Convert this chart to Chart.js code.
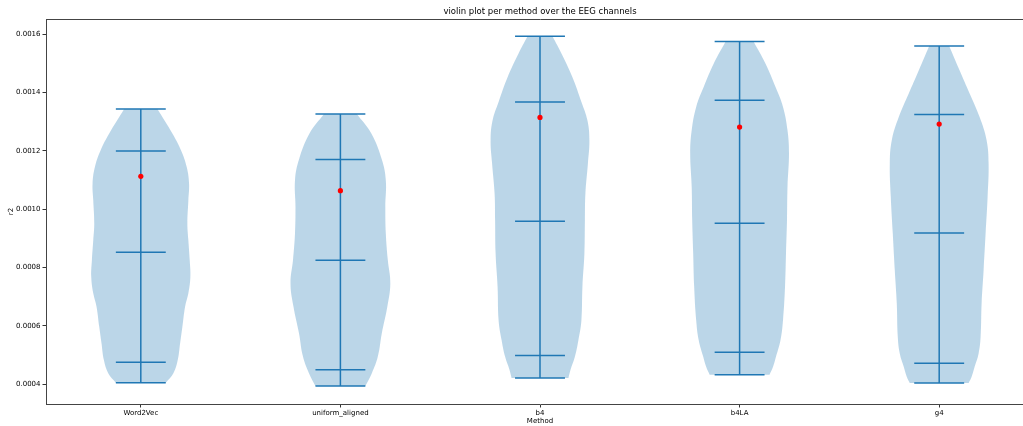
<!DOCTYPE html>
<html>
<head>
<meta charset="utf-8">
<script src="https://cdn.jsdelivr.net/npm/chart.js@4"></script>
<style>
  html, body { margin: 0; padding: 0; background: #fff; overflow: hidden; }
  canvas { display: block; }
</style>
</head>
<body>
<canvas id="chart" width="1045" height="426"></canvas>
<script>
// Methods compared (one violin each, placed at x = 1..5)
const methods = ['Word2Vec', 'uniform_aligned', 'b4', 'b4LA', 'g4'];

// Per-method summary statistics of r2 over the EEG channels
const minVals    = [0.0004055, 0.000394,  0.0004216, 0.000433,  0.0004045];
const q1Vals     = [0.000476,  0.00045,   0.000499,  0.00051,   0.000472];
const medianVals = [0.000853,  0.000825,  0.000959,  0.000952,  0.000919];
const q3Vals     = [0.0012,    0.001171,  0.001368,  0.001374,  0.001325];
const maxVals    = [0.001344,  0.0013267, 0.001593,  0.001575,  0.00156];

// Red markers: overall score per method
const overallVals = [0.001113, 0.001064, 0.001315, 0.001282, 0.001292];

// Kernel density profiles (bottom to top): r2 levels and relative half-widths
const densityLevels = [
  [0.0004055, 0.000438, 0.000483, 0.00054, 0.000597, 0.000666, 0.000712, 0.000768, 0.000826, 0.000894, 0.000951, 0.001031, 0.001088, 0.001145, 0.001202, 0.00126, 0.001344],
  [0.000394, 0.000438, 0.000495, 0.000575, 0.000666, 0.000746, 0.000826, 0.000917, 0.001008, 0.0011, 0.001171, 0.00126, 0.0013267],
  [0.0004216, 0.000449, 0.000495, 0.000552, 0.00062, 0.000734, 0.000849, 0.000963, 0.001054, 0.001157, 0.001237, 0.001305, 0.001368, 0.001453, 0.001534, 0.001593],
  [0.000433, 0.00046, 0.000495, 0.000552, 0.00062, 0.000734, 0.000849, 0.000963, 0.001077, 0.001191, 0.001271, 0.001351, 0.001419, 0.001499, 0.001575],
  [0.0004045, 0.000426, 0.00046, 0.000506, 0.000563, 0.000677, 0.000791, 0.000917, 0.001042, 0.001157, 0.001237, 0.001316, 0.001397, 0.001476, 0.00156]
];
const densityWidths = [
  [0.5, 0.653, 0.74, 0.787, 0.833, 0.887, 0.953, 0.993, 0.98, 0.953, 0.933, 0.953, 0.967, 0.92, 0.807, 0.633, 0.333],
  [0.5, 0.63, 0.75, 0.83, 0.94, 1.0, 0.95, 0.91, 0.9, 0.91, 0.83, 0.62, 0.33],
  [0.57, 0.61, 0.7, 0.77, 0.83, 0.85, 0.89, 0.9, 0.91, 0.96, 0.99, 0.95, 0.83, 0.65, 0.43, 0.25],
  [0.6, 0.67, 0.73, 0.82, 0.87, 0.91, 0.93, 0.95, 0.96, 0.99, 0.96, 0.87, 0.72, 0.52, 0.28],
  [0.59, 0.65, 0.71, 0.79, 0.83, 0.85, 0.89, 0.93, 0.97, 0.99, 0.95, 0.81, 0.61, 0.41, 0.2]
];

// Y axis tick values
const yTickVals = [0.0004, 0.0006, 0.0008, 0.0010, 0.0012, 0.0014, 0.0016];

const VIOLIN_HALF = 0.25;   // max half-width of a violin body (x units)
const LINE_HALF = 0.125;    // half-length of the min/max/quantile bars
const BLUE = '#1f77b4';
const FONT = 'DejaVu Sans';

// Closed outline of one violin: left edge upwards, right edge downwards.
// Corner points are doubled so the flat top keeps a sharp edge under tension.
function violinOutline(i) {
  const c = i + 1;
  const lv = densityLevels[i], wd = densityWidths[i];
  const n = lv.length;
  const pts = [];
  for (let k = 0; k < n; k++) pts.push({ x: c - VIOLIN_HALF * wd[k], y: lv[k] });
  pts.push({ x: c - VIOLIN_HALF * wd[n - 1], y: lv[n - 1] });
  pts.push({ x: c + VIOLIN_HALF * wd[n - 1], y: lv[n - 1] });
  for (let k = n - 1; k >= 0; k--) pts.push({ x: c + VIOLIN_HALF * wd[k], y: lv[k] });
  return pts;
}

function segment(x1, y1, x2, y2) {
  return {
    data: [{ x: x1, y: y1 }, { x: x2, y: y2 }],
    showLine: true,
    borderColor: BLUE,
    borderWidth: 1.5,
    pointRadius: 0,
    fill: false,
    order: 2
  };
}

const datasets = [];
methods.forEach((m, i) => {
  datasets.push({
    label: m,
    data: violinOutline(i),
    showLine: true,
    fill: 'shape',
    backgroundColor: 'rgba(31,119,180,0.3)',
    borderColor: 'rgba(0,0,0,0)',
    borderWidth: 0,
    pointRadius: 0,
    tension: 0.4,
    order: 3
  });
  const c = i + 1;
  datasets.push(segment(c, minVals[i], c, maxVals[i]));
  [minVals, q1Vals, medianVals, q3Vals, maxVals].forEach(arr => {
    datasets.push(segment(c - LINE_HALF, arr[i], c + LINE_HALF, arr[i]));
  });
});
datasets.push({
  data: overallVals.map((v, i) => ({ x: i + 1, y: v })),
  showLine: false,
  pointRadius: 2.6,
  pointBackgroundColor: '#ff0000',
  pointBorderWidth: 0,
  order: 1
});

const X_MIN = 0.525, X_MAX = 5.475;
const Y_MIN = 0.0003325, Y_MAX = 0.0016524;

new Chart(document.getElementById('chart'), {
  type: 'scatter',
  data: { datasets },
  options: {
    responsive: false,
    animation: false,
    events: [],
    layout: { padding: { left: 0, top: 0, bottom: 0, right: 11 } },
    plugins: {
      legend: { display: false },
      tooltip: { enabled: false }
    },
    scales: {
      x: {
        type: 'linear',
        position: 'bottom',
        min: X_MIN,
        max: X_MAX,
        afterBuildTicks: s => { s.ticks = methods.map((m, i) => ({ value: i + 1 })); },
        afterFit: s => { s.height = 22; },
        ticks: {
          autoSkip: false,
          maxRotation: 0,
          padding: 1.5,
          color: '#000',
          font: { family: FONT, size: 7 },
          callback: v => methods[Math.round(v) - 1] ?? ''
        },
        grid: { drawOnChartArea: false, drawTicks: true, tickLength: 3.5, color: '#000', tickWidth: 0.8 },
        border: { display: true, color: '#444', width: 1 },
        title: {
          display: true,
          text: 'Method',
          color: '#000',
          font: { family: FONT, size: 7 },
          padding: { top: 0, bottom: 1 }
        }
      },
      // top frame line, carrying the chart title centred over the axes
      xTop: {
        type: 'linear',
        position: 'top',
        min: X_MIN,
        max: X_MAX,
        afterFit: s => { s.height = 19; },
        ticks: { display: false },
        grid: { drawOnChartArea: false, drawTicks: false },
        border: { display: true, color: '#444', width: 1 },
        title: {
          display: true,
          text: 'violin plot per method over the EEG channels',
          color: '#000',
          font: { family: FONT, size: 8.5 },
          padding: { top: 6.5, bottom: 0 }
        }
      },
      y: {
        type: 'linear',
        position: 'left',
        min: Y_MIN,
        max: Y_MAX,
        afterBuildTicks: s => { s.ticks = yTickVals.map(v => ({ value: v })); },
        afterFit: s => { s.width = 46; },
        ticks: {
          padding: 2,
          color: '#000',
          font: { family: FONT, size: 7 },
          callback: v => Number(v).toFixed(4)
        },
        grid: { drawOnChartArea: false, drawTicks: true, tickLength: 3.5, color: '#000', tickWidth: 0.8 },
        border: { display: true, color: '#444', width: 1 },
        title: {
          display: true,
          text: 'r2',
          color: '#000',
          font: { family: FONT, size: 7 },
          padding: { top: 7, bottom: 0 }
        }
      }
    }
  }
});
</script>
</body>
</html>
